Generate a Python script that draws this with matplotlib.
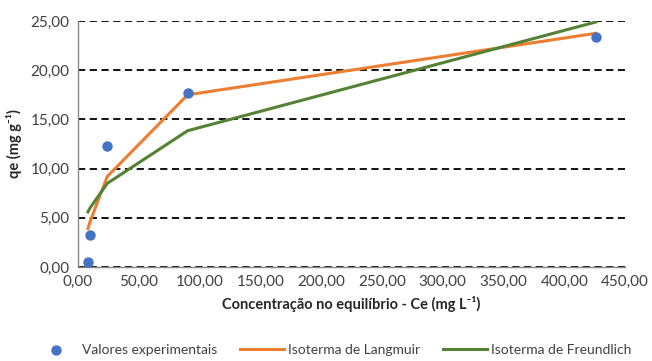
import numpy as np
import matplotlib
matplotlib.use("Agg")
import matplotlib.pyplot as plt
from matplotlib.ticker import FuncFormatter

# values
ce_exp = [8.2, 9.9, 24.1, 90.2, 426.0]
qe_exp = [0.55, 3.25, 12.3, 17.65, 23.4]
qe_langmuir = [3.9, 4.6, 9.2, 17.5, 23.75]
qe_freundlich = [5.6, 6.0, 8.5, 13.85, 24.9]

BLUE = "#4472C4"
ORANGE = "#ED7D31"
GREEN = "#548235"

plt.rcParams["font.family"] = ["Lato", "DejaVu Sans"]

fig = plt.figure(figsize=(6.52, 3.61), dpi=100)
ax = fig.add_axes([78 / 652, 1 - 267 / 361, 547 / 652, 246 / 361])

ax.plot(ce_exp, qe_langmuir, color=ORANGE, lw=2.2, label="Isoterma de Langmuir", zorder=3)
ax.plot(ce_exp, qe_freundlich, color=GREEN, lw=2.2, label="Isoterma de Freundlich", zorder=3)
ax.scatter(ce_exp, qe_exp, s=42, color=BLUE, label="Valores experimentais", zorder=4)

ax.set_xlim(0, 450)
ax.set_ylim(0, 25)
ax.set_xticks(np.arange(0, 451, 50))
ax.set_yticks(np.arange(0, 26, 5))
fmt = FuncFormatter(lambda v, p: f"{v:.2f}".replace(".", ","))
ax.xaxis.set_major_formatter(fmt)
ax.yaxis.set_major_formatter(fmt)

ax.yaxis.grid(True, color="black", ls=(0, (4, 2.5)), lw=1.3)
ax.set_axisbelow(True)
for s in ("top", "right"):
    ax.spines[s].set_visible(False)
for s in ("left", "bottom"):
    ax.spines[s].set_color("#888888")
    ax.spines[s].set_linewidth(1.0)
ax.tick_params(length=0, labelsize=11, colors="#404040", pad=6)

ax.set_xlabel("Concentração no equilíbrio - Ce (mg L⁻¹)", fontsize=10.5,
              fontweight="bold", color="#262626", labelpad=5)
ax.set_ylabel("qe (mg g⁻¹)", fontsize=10.5, fontweight="bold", color="#262626", labelpad=6)

h, l = ax.get_legend_handles_labels()
order = [2, 0, 1]
fig.legend([h[i] for i in order], [l[i] for i in order], loc="center",
           bbox_to_anchor=(0.51, 1 - 350 / 361), ncol=3, frameon=False,
           fontsize=10, handlelength=3.2, columnspacing=1.6, handletextpad=0.3,
           labelcolor="#404040")

fig.savefig("out.png", dpi=100)
